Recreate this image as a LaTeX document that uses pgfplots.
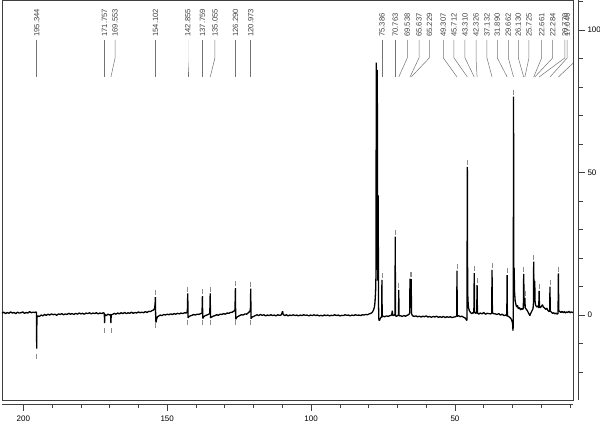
\documentclass[border=0pt]{standalone}
\usepackage{fontspec}
\setmainfont{Liberation Sans}
\usepackage{pgfplots}
\pgfplotsset{compat=1.18}
\newcommand{\lab}[3]{%
 \draw[black!55, line width=0.5pt] (axis cs:#1,96.5) -- (axis cs:#1,90.2) -- (axis cs:#2,83.5);
 \node[rotate=90, anchor=west, inner sep=0pt, font=\fontsize{7.6}{8}\selectfont, text=black!75] at (axis cs:#1,97.6) {#3};
}
\begin{document}
\begin{tikzpicture}[x=1pt,y=1pt]
\path[use as bounding box] (-2pt,-25pt) rectangle (598pt,400pt);
\begin{axis}[at={(0pt,0pt)}, anchor=south west, scale only axis, width=571pt, height=400pt,
  xmin=9.0, xmax=207.4, x dir=reverse, ymin=-29.8, ymax=110.5,
  xtick=\empty, ytick=\empty, axis line style={draw=black!75, line width=0.8pt}, clip=true]
\addplot[black, line width=1.3pt, line join=bevel] coordinates {
(207.4,0.7)(206.8,1.0)(206.2,0.5)(205.6,0.9)(205.0,0.6)(204.4,1.1)(203.8,0.7)(203.2,0.9)(202.6,0.5)(202.0,1.0)
(201.4,0.7)(200.8,0.8)(200.2,1.1)(199.6,0.6)(199.0,0.9)(198.4,0.7)(197.8,1.2)(197.2,0.8)(196.6,1.0)(196.0,0.9)
(195.6,1.1)(195.42,0.8)(195.344,-11.8)(195.27,-0.8)(195.0,-0.3)(194.4,-0.5)(193.8,0.0)(193.2,-0.3)(192.6,0.2)(192.0,-0.1)
(191.4,0.3)(190.8,0.0)(190.2,0.4)(189.6,0.1)(189.0,0.3)(188.4,-0.1)(187.8,0.4)(187.2,0.2)(186.6,0.5)(186.0,0.1)
(185.4,0.4)(184.8,0.2)(184.2,0.6)(183.6,0.3)(183.0,0.5)(182.4,0.2)(181.8,0.6)(181.2,0.3)(180.6,0.7)(180.0,0.4)
(179.4,0.6)(178.8,0.3)(178.2,0.7)(177.6,0.5)(177.0,0.8)(176.4,0.4)(175.8,0.7)(175.2,0.5)(174.6,0.8)(174.0,0.4)
(173.4,0.7)(172.8,0.5)(172.2,0.8)(171.85,0.6)(171.757,-2.8)(171.66,0.2)(171.2,-0.2)(170.6,0.3)(170.0,0.0)(169.65,0.2)
(169.553,-2.8)(169.45,0.1)(169.0,0.2)(168.4,0.6)(167.8,0.3)(167.2,0.7)(166.6,0.4)(166.0,0.8)(165.4,0.5)(164.8,0.9)
(164.2,0.5)(163.6,0.8)(163.0,0.6)(162.4,1.0)(161.8,0.6)(161.2,0.9)(160.6,0.7)(160.0,1.1)(159.4,0.8)(158.8,1.0)
(158.2,0.8)(157.6,1.2)(157.0,0.9)(156.4,1.3)(155.8,1.2)(155.2,1.6)(154.7,1.8)(154.35,2.5)(154.2,4.0)(154.102,6.3)
(154.0,-1.0)(153.9,-2.6)(153.7,-1.5)(153.4,-0.6)(153.0,-0.4)(152.4,0.0)(151.8,-0.2)(151.2,0.2)(150.6,0.0)(150.0,0.3)
(149.4,0.1)(148.8,0.4)(148.2,0.2)(147.6,0.5)(147.0,0.3)(146.4,0.6)(145.8,0.4)(145.2,0.7)(144.6,0.5)(144.0,0.8)
(143.4,0.7)(143.0,1.2)(142.855,7.6)(142.75,-1.0)(142.5,-0.6)(142.0,-0.3)(141.4,-0.1)(140.8,0.2)(140.2,0.0)(139.6,0.3)
(139.0,0.2)(138.4,0.5)(137.9,0.6)(137.759,6.6)(137.65,-1.2)(137.3,-0.6)(136.8,-0.2)(136.2,0.0)(135.6,0.3)(135.2,0.5)
(135.055,7.6)(134.95,-1.0)(134.6,-0.7)(134.0,-0.4)(133.4,-0.2)(132.8,0.1)(132.2,-0.1)(131.6,0.3)(131.0,0.2)(130.4,0.5)
(129.8,0.3)(129.2,0.7)(128.6,0.6)(128.0,0.9)(127.4,1.0)(126.8,1.4)(126.45,1.8)(126.29,9.4)(126.2,-1.5)(125.9,-0.9)
(125.4,-0.5)(124.8,-0.2)(124.2,0.1)(123.6,0.0)(123.0,0.4)(122.4,0.3)(121.8,0.8)(121.3,1.3)(121.1,1.8)(120.973,9.3)
(120.88,-1.3)(120.6,-0.8)(120.0,-0.5)(119.4,-0.2)(118.8,0.1)(118.2,-0.2)(117.6,0.2)(117.0,-0.1)(116.4,0.1)(115.8,-0.3)
(115.2,0.0)(114.6,-0.2)(114.0,0.1)(113.4,-0.2)(112.8,0.0)(112.2,-0.3)(111.6,0.1)(111.0,-0.1)(110.4,0.0)(109.9,1.3)
(109.7,0.2)(109.2,-0.2)(108.6,0.1)(108.0,-0.3)(107.4,0.0)(106.8,-0.2)(106.2,0.1)(105.6,-0.2)(105.0,0.0)(104.4,-0.3)
(103.8,0.0)(103.2,-0.2)(102.6,0.1)(102.0,-0.1)(101.4,0.0)(100.8,-0.3)(100.2,0.0)(99.6,-0.2)(99.0,0.1)(98.4,-0.2)
(97.8,0.0)(97.2,-0.3)(96.6,-0.1)(96.0,-0.3)(95.4,0.0)(94.8,-0.2)(94.2,0.0)(93.6,-0.3)(93.0,-0.1)(92.4,-0.2)
(91.8,0.1)(91.2,-0.2)(90.6,0.0)(90.0,-0.3)(89.4,-0.1)(88.8,-0.2)(88.2,0.1)(87.6,-0.1)(87.0,0.0)(86.4,-0.3)
(85.8,0.0)(85.2,-0.2)(84.6,0.1)(84.0,-0.1)(83.4,0.0)(82.8,-0.2)(82.2,0.1)(81.6,0.0)(81.0,0.2)(80.4,0.1)
(79.8,0.4)(79.2,0.6)(78.7,1.0)(78.3,1.8)(78.0,2.8)(77.8,4.5)(77.6,8.0)(77.45,14.0)(77.36,88.5)(77.25,22.0)
(77.12,18.0)(77.0,86.0)(76.88,16.0)(76.78,12.0)(76.68,42.0)(76.58,4.0)(76.45,-1.5)(76.3,-2.0)(76.0,-1.3)(75.7,-0.8)
(75.48,-0.6)(75.386,12.3)(75.3,-0.7)(75.0,-0.4)(74.4,-0.6)(73.8,-0.3)(73.2,-0.5)(72.6,-0.2)(72.0,0.0)(71.8,1.5)
(71.6,-0.2)(71.2,-0.1)(70.85,0.2)(70.763,27.5)(70.68,-0.3)(70.3,-0.4)(69.9,-0.2)(69.62,0.1)(69.538,8.8)(69.45,-0.3)
(69.0,-0.2)(68.4,-0.5)(67.8,-0.2)(67.2,-0.4)(66.6,-0.1)(66.0,0.2)(65.75,0.8)(65.637,12.8)(65.45,2.5)(65.229,12.6)
(65.1,0.5)(64.8,-0.2)(64.2,-0.5)(63.6,-0.3)(63.0,-0.6)(62.4,-0.4)(61.8,-0.7)(61.2,-0.4)(60.6,-0.6)(60.0,-0.3)
(59.4,-0.7)(58.8,-0.5)(58.2,-0.8)(57.6,-0.5)(57.0,-0.7)(56.4,-0.4)(55.8,-0.8)(55.2,-0.6)(54.6,-0.8)(54.0,-0.5)
(53.4,-0.9)(52.8,-0.6)(52.2,-0.8)(51.6,-0.6)(51.0,-0.9)(50.4,-0.7)(49.8,-0.6)(49.4,-0.3)(49.307,15.6)(49.22,-0.5)
(48.8,-0.2)(48.2,-0.6)(47.6,-0.4)(47.0,-0.8)(46.5,-1.0)(46.1,-1.6)(45.85,-1.9)(45.712,52.0)(45.6,8.0)(45.45,4.5)
(45.3,2.5)(45.0,1.5)(44.6,0.9)(44.2,0.5)(43.8,0.8)(43.45,0.7)(43.31,14.7)(43.2,1.2)(42.8,0.6)(42.45,0.8)
(42.326,10.5)(42.2,0.8)(41.8,0.3)(41.2,0.7)(40.6,0.4)(40.0,0.9)(39.4,0.3)(38.8,0.6)(38.2,0.5)(37.7,0.4)
(37.25,0.6)(37.132,15.8)(37.0,0.8)(36.6,0.5)(36.0,0.4)(35.4,0.2)(34.8,0.5)(34.2,0.0)(33.6,0.3)(33.0,-0.2)
(32.4,0.0)(32.0,-0.3)(31.89,14.0)(31.8,-0.3)(31.4,-0.5)(31.0,-0.8)(30.6,-1.2)(30.3,-1.8)(30.0,-2.8)(29.85,-5.5)
(29.75,-3.0)(29.662,76.6)(29.55,14.0)(29.45,16.5)(29.3,8.0)(29.1,5.0)(28.9,4.0)(28.6,2.8)(28.3,3.4)(28.0,2.2)
(27.6,2.6)(27.2,1.8)(26.8,2.3)(26.4,2.0)(26.25,2.6)(26.13,14.4)(26.0,5.5)(25.85,4.5)(25.725,6.0)(25.6,2.5)
(25.2,2.0)(24.8,1.4)(24.4,0.6)(24.0,-0.2)(23.6,0.8)(23.2,1.6)(22.9,2.2)(22.75,4.0)(22.661,18.7)(22.5,6.0)
(22.35,7.0)(22.284,12.0)(22.2,5.0)(22.0,3.5)(21.6,2.8)(21.2,3.2)(20.9,2.5)(20.77,8.5)(20.65,3.0)(20.3,2.6)
(19.9,3.2)(19.6,3.6)(19.3,2.8)(18.9,2.5)(18.5,2.0)(18.1,2.4)(17.7,1.6)(17.3,1.2)(17.1,1.5)(17.0,10.0)
(16.9,1.4)(16.5,1.0)(16.1,0.6)(15.7,0.8)(15.3,0.4)(14.9,0.7)(14.5,0.3)(14.2,0.6)(14.07,14.6)(13.95,1.6)
(13.6,1.2)(13.2,0.9)(12.8,1.3)(12.4,0.8)(12.0,1.2)(11.6,0.7)(11.2,1.1)(10.8,0.9)(10.4,1.3)(10.0,0.8)
(9.6,1.1)(9.2,0.9)(8.8,1.0)
};
% peak-pick marks
\addplot[only marks, mark=|, mark size=2.5pt, draw=black!45, mark options={line width=0.6pt}] coordinates {
(195.344,-14.5)(171.757,-5.5)(169.553,-5.5)
(154.102,7.8)(142.855,9.1)(137.759,8.1)(135.055,9.1)(126.29,10.9)(120.973,10.8)
(154.102,-3.5)(142.855,-2.5)(137.759,-2.5)(135.055,-2.5)(126.29,-2.5)(120.973,-2.5)
(75.386,13.8)(70.763,29.0)(69.538,10.3)(65.637,14.3)(65.229,14.1)(49.307,17.1)(45.712,53.5)
(43.31,16.2)(42.326,12.0)(37.132,17.3)(31.89,15.5)(29.662,78.1)(26.13,15.9)(25.725,7.5)
(22.661,20.2)(22.284,13.5)(20.77,10.0)(17.0,11.5)(14.07,16.1)
};
\lab{195.344}{195.344}{195.344}
\lab{171.757}{171.757}{171.757}
\lab{168.1}{169.553}{169.553}
\lab{154.102}{154.102}{154.102}
\lab{142.855}{142.855}{142.855}
\lab{137.759}{137.759}{137.759}
\lab{133.4}{135.055}{135.055}
\lab{126.290}{126.290}{126.290}
\lab{120.973}{120.973}{120.973}
\lab{75.386}{75.386}{75.386}
\lab{70.763}{70.763}{70.763}
\lab{66.57}{69.538}{69.538}
\lab{62.5}{65.637}{65.637}
\lab{58.9}{65.229}{65.229}
\lab{54.07}{49.307}{49.307}
\lab{50.35}{45.712}{45.712}
\lab{46.53}{43.310}{43.310}
\lab{42.7}{42.326}{42.326}
\lab{38.9}{37.132}{37.132}
\lab{35.3}{31.890}{31.890}
\lab{31.48}{29.662}{29.662}
\lab{28.0}{26.130}{26.130}
\lab{24.3}{25.725}{25.725}
\lab{19.87}{22.661}{22.661}
\lab{16.05}{22.284}{22.284}
\lab{11.8}{20.770}{20.770}
\lab{11.0}{17.0}{17.046}
\lab{7.0}{14.07}{14.068}
\end{axis}
% bottom ppm axis
\begin{axis}[at={(0pt,-4pt)}, anchor=south west, scale only axis, width=571pt, height=1pt,
  xmin=9.0, xmax=207.4, x dir=reverse, ymin=0, ymax=1,
  axis x line*=bottom, axis y line=none,
  x axis line style={draw=black!75, line width=0.6pt, -},
  xtick={50,100,150,200}, minor xtick={10,20,...,200},
  tick align=outside, major tick length=7pt, minor tick length=4.5pt,
  tick style={black!75, line width=0.6pt},
  xticklabel style={font=\fontsize{8}{9}\selectfont, yshift=-1pt},
  /pgf/number format/assume math mode=true]
\end{axis}
% right intensity axis
\begin{axis}[at={(575pt,0pt)}, anchor=south west, scale only axis, width=1pt, height=400pt,
  xmin=0, xmax=1, ymin=-29.8, ymax=110.5,
  axis y line*=right, axis x line=none,
  y axis line style={draw=black!75, line width=0.6pt, -},
  ytick={0,50,100}, minor ytick={-20,-10,10,20,30,40,60,70,80,90,110},
  tick align=outside, major tick length=7pt, minor tick length=4.5pt,
  tick style={black!75, line width=0.6pt},
  yticklabel style={font=\fontsize{8}{9}\selectfont, xshift=-1pt},
  /pgf/number format/assume math mode=true]
\end{axis}
\end{tikzpicture}
\end{document}
